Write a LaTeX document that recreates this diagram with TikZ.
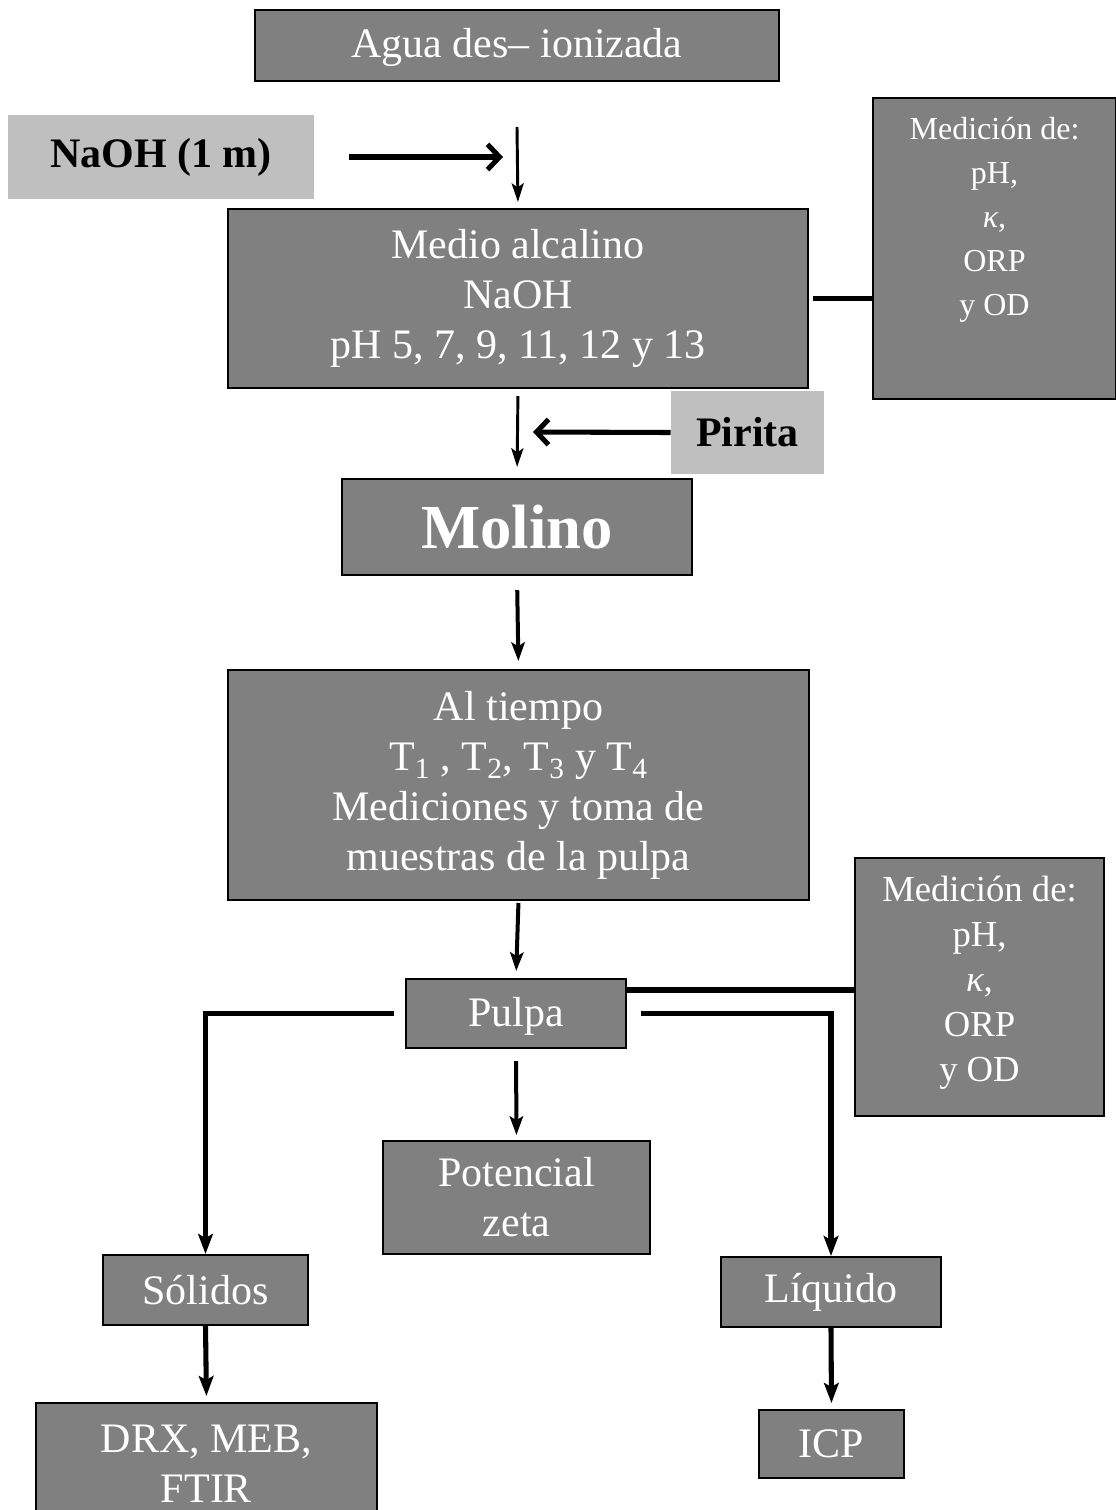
\documentclass[tikz,border=0pt]{standalone}
\usepackage{fontspec}
\setmainfont{Liberation Serif}
\usetikzlibrary{arrows.meta}

\definecolor{cajagris}{HTML}{808080}
\definecolor{grisclaro}{HTML}{BFBFBF}

\tikzset{every picture/.style={line width=0.75pt}}
\tikzset{
  caja/.style={draw=black, line width=1.5pt, fill=cajagris, text=white, align=center, inner sep=0pt,
    font=\fontsize{31.5}{37.5}\selectfont},
  entrada/.style={fill=grisclaro, text=black, inner sep=0pt, font=\fontsize{31.5}{37.5}\selectfont\bfseries},
  medtexto/.style={text=white, align=center, inner sep=0pt, anchor=north},
  flechafina/.style={line width=2.2pt, -{Stealth[length=14pt,width=9pt,inset=3pt]}},
  flechamedia/.style={line width=3pt, -{Stealth[length=14pt,width=10pt,inset=3pt]}},
  flechagruesa/.style={line width=3.8pt, -{Straight Barb[length=9pt,width=19pt]}},
  linea/.style={line width=4pt},
  rama/.style={line width=3.8pt, -{Stealth[length=15pt,width=11pt,inset=3pt]}}
}

\begin{document}
\begin{tikzpicture}[x=0.75pt,y=0.75pt,yscale=-1,xscale=1]
        \useasboundingbox (0,0) rectangle (1116,1510);

        % cajas principales
        \node[caja, minimum width=393pt, minimum height=53.25pt, text depth=4pt] (agua) at (517,45.5) {Agua des– ionizada};
        \node[entrada, minimum width=229.5pt, minimum height=63pt] (naoh) at (161,157) {NaOH (1 m)};
        \node[caja, minimum width=435pt, minimum height=134.25pt] (medio) at (518,298.5) {Medio alcalino\\NaOH\\pH 5, 7, 9, 11, 12 y 13};
        \node[caja, minimum width=182.25pt, minimum height=225.75pt] (medicion1) at (994.5,248.5) {};
        \node[medtexto, font=\fontsize{24}{33}\selectfont] (texto1) at ([yshift=15pt]medicion1.north) {Medición de:\\pH,\\\textit{κ},\\ORP\\y OD};
        \node[entrada, minimum width=114.75pt, minimum height=62.25pt] (pirita) at (747.5,432.5) {Pirita};
        \node[caja, minimum width=262.5pt, minimum height=72pt, font=\fontsize{47}{50}\selectfont\bfseries] (molino) at (517,527) {Molino};
        \node[caja, minimum width=435.75pt, minimum height=172.5pt] (tiempo) at (518.5,785) {Al tiempo\\T\textsubscript{1} , T\textsubscript{2}, T\textsubscript{3} y T\textsubscript{4}\\Mediciones y toma de\\muestras de la pulpa};
        \node[caja, minimum width=165pt, minimum height=51.75pt, text depth=3pt] (pulpa) at (516,1013.5) {Pulpa};
        \node[caja, minimum width=186.75pt, minimum height=193.5pt] (medicion2) at (979.5,987) {};
        \node[medtexto, font=\fontsize{27.5}{33.75}\selectfont] (texto2) at ([yshift=14pt]medicion2.north) {Medición de:\\pH,\\\textit{κ},\\ORP\\y OD};
        \node[caja, minimum width=200.25pt, minimum height=84.75pt] (zeta) at (516.5,1197.5) {Potencial\\zeta};
        \node[caja, minimum width=153.75pt, minimum height=52.5pt] (solidos) at (205.5,1290) {Sólidos};
        \node[caja, minimum width=165pt, minimum height=52.5pt] (liquido) at (831,1292) {Líquido};
        \node[caja, minimum width=255.75pt, minimum height=90.75pt] (drx) at (206.5,1463.5) {DRX, MEB,\\FTIR};
        \node[caja, minimum width=108.75pt, minimum height=51pt] (icp) at (831.5,1444) {ICP};

        % puntos libres
        \coordinate (inicio) at (517,127);
        \coordinate (finnaoh) at (503,157);
        \coordinate (finpirita) at (533,432);

        % conectores
        \draw[flechafina, shorten >=4.5pt] (inicio) -- (medio.north);
        \draw[flechagruesa, shorten <=26pt] (naoh.east) -- (finnaoh);
        \draw[linea, shorten <=3pt] (medio.east) -- (medio.east -| medicion1.west);
        \draw[flechafina, shorten <=5.25pt, shorten >=8.25pt] (medio.south) -- (molino.north);
        \draw[flechagruesa] (pirita.west) -- (finpirita);
        \draw[flechamedia, shorten <=10.5pt, shorten >=6pt] (molino.south) -- (tiempo.north);
        \draw[flechamedia, shorten <=1.5pt, shorten >=5.25pt] (tiempo.south) -- (pulpa.north);
        \draw[linea] ([yshift=-17.6pt]pulpa.east) -- ([yshift=-17.6pt]pulpa.east -| medicion2.west);
        \draw[rama] ([xshift=-8.25pt]pulpa.west) -| (solidos.north);
        \draw[rama] ([xshift=10.5pt]pulpa.east) -| (liquido.north);
        \draw[flechamedia, shorten <=9pt, shorten >=3.75pt] (pulpa.south) -- (zeta.north);
        \draw[rama, shorten >=4.5pt] (solidos.south) -- (drx.north);
        \draw[rama, shorten >=4.5pt] (liquido.south) -- (icp.north);
    \end{tikzpicture}
\end{document}
